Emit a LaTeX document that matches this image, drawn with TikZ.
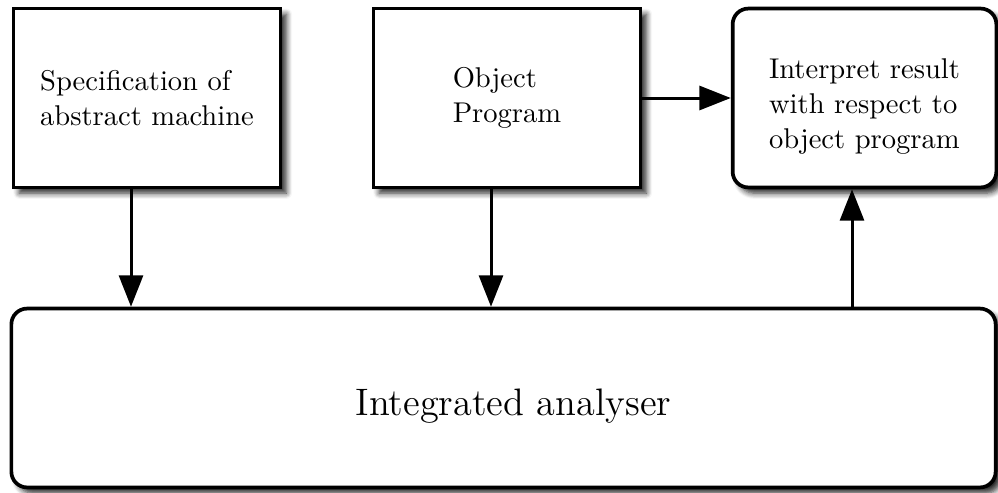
\documentclass[tikz,border=0pt]{standalone}
\usetikzlibrary{arrows.meta,shadows.blur}
\begin{document}
\begin{tikzpicture}[x=0.35pt,y=-0.35pt,
  box/.style={draw,line width=1.3pt,fill=white,inner sep=0pt,
    minimum height=62.6pt,align=left,font=\fontsize{10}{12.25}\selectfont,
    blur shadow={shadow xshift=2pt,shadow yshift=-2pt,shadow blur steps=6,shadow blur radius=2pt,shadow opacity=85}},
  rbox/.style={box,rounded corners=5.5pt},
  arr/.style={line width=1.05pt,-{Triangle[length=11pt,width=8.4pt]}}]
\useasboundingbox (0,0) rectangle (998,492);
\node[box,minimum width=93.5pt] (spec) at (147,98) {Specification of\\abstract machine};
\node[box,minimum width=93.5pt] (obj) at (507,98) {Object\\Program};
\node[rbox,minimum width=92.3pt] (interp) at (864.5,98) {\rule{0pt}{12.8pt}Interpret result\\with respect to\\object program};
\node[rbox,minimum width=344.5pt,font=\fontsize{13.4}{15.5}\selectfont,text height=11.9pt,text depth=0pt] (ia) at (503.5,398) {\hspace*{7pt}Integrated analyser};
\draw[arr] (spec.south -| 131,0) -- (ia.north -| 131,0);
\draw[arr] (obj.south -| 491,0) -- (ia.north -| 491,0);
\draw[arr] (obj.east |- 0,98) -- (interp.west |- 0,98);
\draw[arr] (ia.north -| 852,0) -- (interp.south -| 852,0);
\end{tikzpicture}
\end{document}
